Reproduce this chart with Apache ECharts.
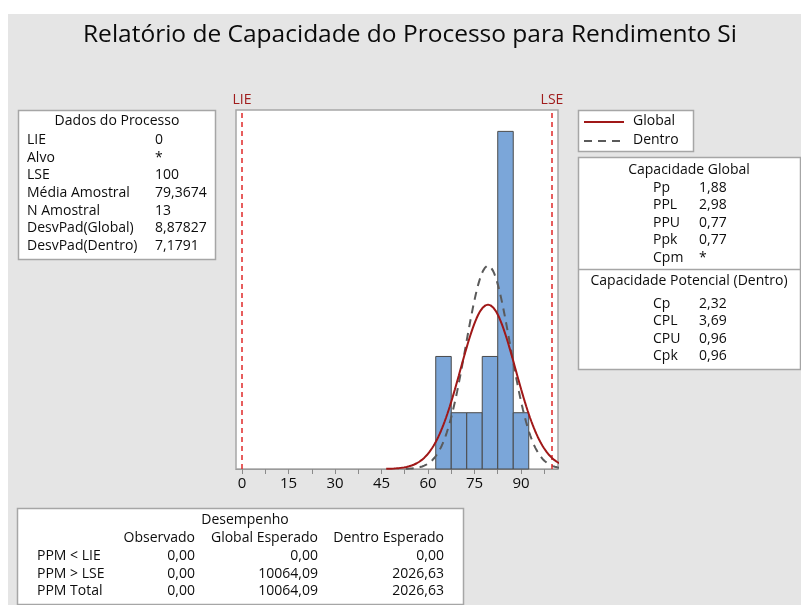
<!DOCTYPE html>
<html>
<head>
<meta charset="utf-8">
<script src="https://cdn.jsdelivr.net/npm/echarts@6/dist/echarts.min.js"></script>
<style>
  html, body { margin: 0; padding: 0; background: #ffffff; }
  #chart { width: 801px; height: 605px; }
</style>
</head>
<body>
<div id="chart"></div>
<script>
// Process data: histogram bins of "Rendimento Si"
var binEdges = [62.5, 67.5, 72.5, 77.5, 82.5, 87.5, 92.5];
var binCounts = [2, 1, 1, 2, 6, 1];

// Specification limits and fitted normal parameters
var specLIE = 0;
var specLSE = 100;
var sampleMean = 79.3674;
var sampleN = 13;
var sdGlobal = 8.87827;
var sdWithin = 7.1791;

// Axis ticks
var tickLabels = [0, 15, 30, 45, 60, 75, 90];
var tickMarks = [0, 7.5, 15, 22.5, 30, 37.5, 45, 52.5, 60, 67.5, 75, 82.5, 90, 97.5];

// Table contents
var processRows = [
  ['LIE', '0'], ['Alvo', '*'], ['LSE', '100'], ['Média Amostral', '79,3674'],
  ['N Amostral', '13'], ['DesvPad(Global)', '8,87827'], ['DesvPad(Dentro)', '7,1791']
];
var globalRows = [['Pp', '1,88'], ['PPL', '2,98'], ['PPU', '0,77'], ['Ppk', '0,77'], ['Cpm', '*']];
var withinRows = [['Cp', '2,32'], ['CPL', '3,69'], ['CPU', '0,96'], ['Cpk', '0,96']];
var perfHeader = ['Observado', 'Global Esperado', 'Dentro Esperado'];
var perfRows = [
  ['PPM < LIE', '0,00', '0,00', '0,00'],
  ['PPM > LSE', '0,00', '10064,09', '2026,63'],
  ['PPM Total', '0,00', '10064,09', '2026,63']
];

// Fitted normal density scaled to histogram counts
function normalCurve(mu, sd, from, to, steps) {
  var scale = sampleN * (binEdges[1] - binEdges[0]);
  var pts = [];
  for (var i = 0; i <= steps; i++) {
    var x = from + (to - from) * i / steps;
    var z = (x - mu) / sd;
    pts.push([x, scale * Math.exp(-0.5 * z * z) / (sd * Math.sqrt(2 * Math.PI))]);
  }
  return pts;
}

var histData = binCounts.map(function (c, i) { return [binEdges[i], binEdges[i + 1], c]; });

var FONT = '"Open Sans", "Noto Sans", sans-serif';
var TXT = '#0d0d0d';
var BOX = '#a6a6a6';

var graphics = [];
function box(x, y, w, h) {
  graphics.push({ type: 'rect', z: 0, shape: { x: x, y: y, width: w, height: h },
    style: { fill: '#ffffff', stroke: BOX, lineWidth: 1.5 } });
}
function txt(x, y, s, align, size) {
  graphics.push({ type: 'text', z: 5, x: x, y: y,
    style: { text: s, fill: TXT, font: (size || 14) + 'px ' + FONT, textAlign: align || 'left', textVerticalAlign: 'middle' } });
}

// page backdrop
graphics.push({ type: 'rect', z: -10, shape: { x: 8, y: 14, width: 801, height: 600 }, style: { fill: '#e5e5e5' } });

// Dados do Processo
box(18.5, 110.5, 197, 149);
txt(117, 121, 'Dados do Processo', 'center');
processRows.forEach(function (r, i) {
  txt(27, 140 + i * 17.7, r[0]);
  txt(155, 140 + i * 17.7, r[1]);
});

// Legend box
box(578.5, 110.5, 115, 41);
graphics.push({ type: 'line', z: 5, shape: { x1: 584, y1: 122, x2: 624, y2: 122 }, style: { stroke: '#a01818', lineWidth: 2 } });
graphics.push({ type: 'line', z: 5, shape: { x1: 584, y1: 141, x2: 624, y2: 141 }, style: { stroke: '#5a5a5a', lineWidth: 2, lineDash: [8, 6] } });
txt(633, 121, 'Global');
txt(633, 140, 'Dentro');

// Capacidade box
box(578.5, 157.5, 222, 212);
txt(689, 170, 'Capacidade Global', 'center');
globalRows.forEach(function (r, i) {
  txt(653, 188 + i * 17.5, r[0]);
  txt(699, 188 + i * 17.5, r[1]);
});
graphics.push({ type: 'line', z: 5, shape: { x1: 579, y1: 269.5, x2: 800, y2: 269.5 }, style: { stroke: BOX, lineWidth: 1.5 } });
txt(689, 281, 'Capacidade Potencial (Dentro)', 'center');
withinRows.forEach(function (r, i) {
  txt(653, 304 + i * 17.5, r[0]);
  txt(699, 304 + i * 17.5, r[1]);
});

// Desempenho box
box(17.5, 508.5, 446, 96);
txt(245, 520, 'Desempenho', 'center');
var colRight = [195, 318, 444];
perfHeader.forEach(function (h, j) { txt(colRight[j], 538, h, 'right'); });
perfRows.forEach(function (r, i) {
  txt(37, 556 + i * 17.6, r[0]);
  for (var j = 1; j < 4; j++) txt(colRight[j - 1], 556 + i * 17.6, r[j], 'right');
});

var chart = echarts.init(document.getElementById('chart'), null, { renderer: 'canvas' });
chart.setOption({
  backgroundColor: 'transparent',
  animation: false,
  title: {
    text: 'Relatório de Capacidade do Processo para Rendimento Si',
    left: 78, top: 18,
    textStyle: { fontFamily: FONT, fontSize: 24.5, fontWeight: 'normal', color: '#0a0a0a' }
  },
  graphic: graphics,
  grid: {
    left: 236, right: 243, top: 110, bottom: 136,
    show: true, backgroundColor: '#ffffff', borderColor: BOX, borderWidth: 1.5
  },
  xAxis: {
    type: 'value', min: -1.94, max: 101.94,
    axisLine: { show: true, lineStyle: { color: '#9a9a9a' } },
    axisTick: { show: true, length: 5, lineStyle: { color: '#8a8a8a' }, customValues: tickMarks },
    axisLabel: { customValues: tickLabels, color: TXT, fontFamily: FONT, fontSize: 15, margin: 7 },
    splitLine: { show: false }
  },
  yAxis: { type: 'value', min: 0, max: 6.38, show: false, splitLine: { show: false } },
  series: [
    {
      type: 'custom',
      z: 2,
      renderItem: function (params, api) {
        var p0 = api.coord([api.value(0), api.value(2)]);
        var p1 = api.coord([api.value(1), 0]);
        return {
          type: 'rect',
          shape: { x: p0[0], y: p0[1], width: p1[0] - p0[0], height: p1[1] - p0[1] },
          style: { fill: '#7ba6d9', stroke: '#4a4a4a', lineWidth: 1 }
        };
      },
      encode: { x: [0, 1], y: 2 },
      data: histData
    },
    {
      type: 'line', z: 4, showSymbol: false, symbol: 'none', smooth: false,
      lineStyle: { color: '#5a5a5a', width: 2, type: [8, 6] },
      data: normalCurve(sampleMean, sdWithin, sampleMean - 3.7 * sdWithin, sampleMean + 3.7 * sdWithin, 160)
    },
    {
      type: 'line', z: 5, showSymbol: false, symbol: 'none', smooth: false,
      lineStyle: { color: '#a01818', width: 2 },
      data: normalCurve(sampleMean, sdGlobal, sampleMean - 3.7 * sdGlobal, sampleMean + 3.7 * sdGlobal, 160)
    },
    {
      type: 'line', z: 3, data: [],
      markLine: {
        silent: true, symbol: 'none',
        lineStyle: { color: '#e02828', width: 1.5, type: [5, 4] },
        label: { show: true, position: 'end', formatter: '{b}', color: '#a01c1c', fontFamily: FONT, fontSize: 14, distance: 3 },
        data: [{ name: 'LIE', xAxis: specLIE }, { name: 'LSE', xAxis: specLSE }]
      }
    }
  ]
});
</script>
</body>
</html>
